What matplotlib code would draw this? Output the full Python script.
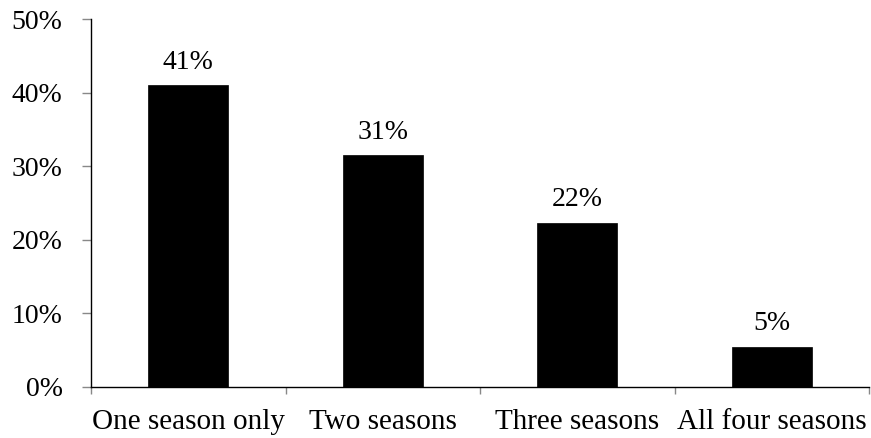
import matplotlib
matplotlib.use("Agg")
import matplotlib.pyplot as plt
from matplotlib.ticker import FuncFormatter, FixedLocator

categories = ["One season only", "Two seasons", "Three seasons", "All four seasons"]
values = [0.410, 0.315, 0.223, 0.054]
value_labels = ["41%", "31%", "22%", "5%"]
y_ticks = [0.0, 0.1, 0.2, 0.3, 0.4, 0.5]

plt.rcParams['font.family'] = ['Liberation Serif', 'DejaVu Serif']
plt.rcParams['font.size'] = 20

fig = plt.figure(figsize=(8.71, 4.38), dpi=100)
ax = fig.add_axes([0.1045, 0.1171, 0.8932, 0.8389])

x = list(range(len(categories)))
bars = ax.bar(x, values, width=0.411, color="black", edgecolor="black", linewidth=0.5)

for xi, v, lab in zip(x, values, value_labels):
    ax.annotate(lab, (xi, v), xytext=(0, 12), textcoords="offset points",
                ha="center", va="baseline", fontsize=20)

ax.set_xlim(-0.5, len(categories) - 0.5)
ax.set_ylim(0, 0.5)
ax.set_yticks(y_ticks)
ax.yaxis.set_major_formatter(FuncFormatter(lambda v, p: f"{v*100:.0f}%"))
ax.set_xticks(x)
ax.set_xticklabels(categories)
ax.xaxis.set_minor_locator(FixedLocator([i - 0.5 for i in range(len(categories) + 1)]))

ax.tick_params(axis="x", which="major", length=0, pad=16, labelsize=21)
ax.tick_params(axis="x", which="minor", length=5, color="#888888", width=1)
ax.tick_params(axis="y", which="major", length=6.5, color="#888888", width=1, pad=14, labelsize=20)

for s in ["top", "right"]:
    ax.spines[s].set_visible(False)
ax.spines["left"].set_color("black")
ax.spines["bottom"].set_color("black")
ax.spines["left"].set_linewidth(1)
ax.spines["bottom"].set_linewidth(1)

fig.savefig("out.png", dpi=100)
